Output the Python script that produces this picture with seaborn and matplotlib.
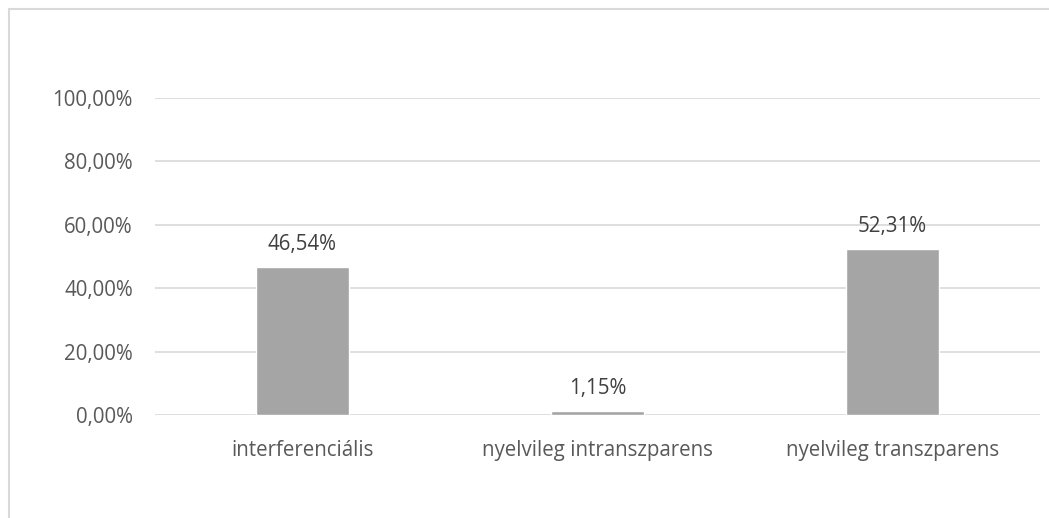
import matplotlib
matplotlib.use("Agg")
import matplotlib.pyplot as plt
import seaborn as sns
import pandas as pd
from matplotlib.lines import Line2D

categories = ["interferenciális", "nyelvileg intranszparens", "nyelvileg transzparens"]
values = [46.54, 1.15, 52.31]
labels = ["46,54%", "1,15%", "52,31%"]
yticks = [0, 20, 40, 60, 80, 100]
ytick_labels = ["0,00%", "20,00%", "40,00%", "60,00%", "80,00%", "100,00%"]

sns.set_theme(style="white")
plt.rcParams['font.family'] = ['Open Sans', 'DejaVu Sans']

df = pd.DataFrame({"cat": categories, "val": values})

fig = plt.figure(figsize=(10.49, 5.18), dpi=100)
ax = fig.add_axes([155/1049, 1-415/518, (1040-155)/1049, (415-98)/518])

for y in yticks:
    ax.axhline(y, color="#D9D9D9", lw=1.2, zorder=0)

sns.barplot(data=df, x="cat", y="val", color="#A5A5A5", width=0.315,
            saturation=1, ax=ax, zorder=2)

fs = 14.8
for i, (v, t) in enumerate(zip(values, labels)):
    ax.annotate(t, (i, v), xytext=(0, 9), textcoords="offset points",
                ha="center", va="bottom", fontsize=fs, color="#404040")

ax.set_ylim(0, 100)
ax.set_yticks(yticks)
ax.set_yticklabels(ytick_labels)
ax.set_xlabel("")
ax.set_ylabel("")
for s in ax.spines.values():
    s.set_visible(False)
ax.tick_params(axis="both", length=0, labelsize=fs, colors="#595959")
ax.tick_params(axis="y", pad=16)
ax.tick_params(axis="x", pad=18)

# chart border (top and left visible)
fig.add_artist(Line2D([9/1049, 9/1049], [0, 1-9/518], color="#D9D9D9", lw=1.5,
                      transform=fig.transFigure))
fig.add_artist(Line2D([9/1049, 1], [1-9/518, 1-9/518], color="#D9D9D9", lw=1.5,
                      transform=fig.transFigure))

fig.savefig("out.png", dpi=100, facecolor="white")
